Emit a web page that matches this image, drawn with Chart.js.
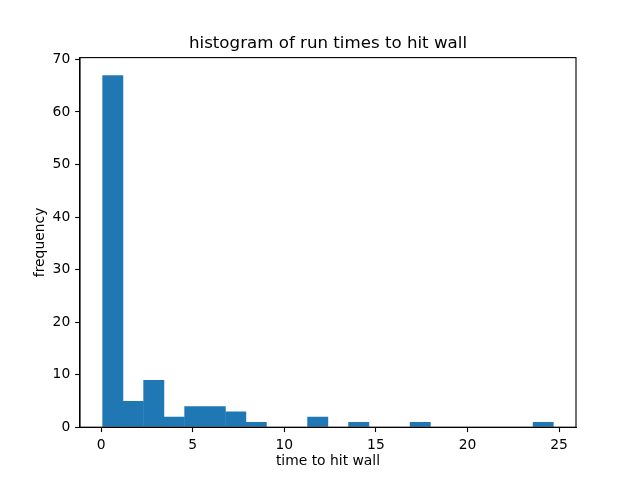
<!DOCTYPE html>
<html>
<head>
<meta charset="utf-8">
<title>histogram of run times to hit wall</title>
<script src="https://cdn.jsdelivr.net/npm/chart.js@4/dist/chart.umd.min.js"></script>
<style>
  html, body { margin: 0; padding: 0; background: #fff; }
  #wrap { width: 640px; height: 480px; }
</style>
</head>
<body>
<div id="wrap"><canvas id="chart-hist" width="640" height="480"></canvas></div>
<script>
// ── DATA ──────────────────────────────────
const binEdges = [0.076, 1.195, 2.314, 3.433, 4.552, 5.671, 6.790, 7.909, 9.028, 10.147,
  11.266, 12.385, 13.504, 14.623, 15.742, 16.861, 17.980, 19.099, 20.218, 21.337,
  22.456, 23.575, 24.694];
const counts = [67, 5, 9, 2, 4, 4, 3, 1, 0, 0, 2, 0, 1, 0, 0, 1, 0, 0, 0, 0, 0, 1];
const xTicks = [0, 5, 10, 15, 20, 25];
const yTicks = [0, 10, 20, 30, 40, 50, 60, 70];

(function Histogram() {
  const PT = 100 / 72;          // matplotlib points -> px at dpi 100
  const FONT = 'DejaVu Sans';
  const BLUE = '#1f77b4';

  // plot box, same as the default matplotlib subplot
  const AX = { left: 80, right: 576, top: 57.6, bottom: 427.2 };
  const xRange = { min: -1.155, max: 25.925 };
  const yRange = { min: 0, max: 70.35 };

  const points = counts.map((c, i) => ({ x: (binEdges[i] + binEdges[i + 1]) / 2, y: c }));

  // top + right spines (Chart.js only draws the axis borders)
  const frame = {
    id: 'frame',
    afterDraw(chart) {
      const { ctx, chartArea: a } = chart;
      ctx.save();
      ctx.strokeStyle = '#000';
      ctx.lineWidth = 0.8 * PT;
      ctx.strokeRect(a.left, a.top, a.right - a.left, a.bottom - a.top);
      ctx.restore();
    }
  };

  const tickFont = { family: FONT, size: 10 * PT };
  const tickGrid = {
    display: true,
    drawOnChartArea: false,
    drawTicks: true,
    tickLength: 3.5 * PT,
    tickColor: '#000',
    tickWidth: 0.8 * PT,
    offset: false
  };

  new Chart(document.getElementById('chart-hist'), {
    type: 'bar',
    data: {
      datasets: [{
        data: points,
        backgroundColor: BLUE,
        borderWidth: 0,
        barPercentage: 1.02,     // tiny overlap hides anti-alias seams
        categoryPercentage: 1.0,
        grouped: false
      }]
    },
    options: {
      responsive: false,
      animation: false,
      devicePixelRatio: 1,
      layout: { padding: { left: 0, right: 640 - AX.right, top: 0, bottom: 0 } },
      plugins: {
        legend: { display: false },
        tooltip: { enabled: false },
        title: {
          display: true,
          text: 'histogram of run times to hit wall',
          fullSize: false,
          color: '#000',
          font: { family: FONT, size: 12 * PT, weight: 'normal', lineHeight: 1.2 },
          padding: { top: 34, bottom: AX.top - 34 - 12 * PT * 1.2 }
        }
      },
      scales: {
        x: {
          type: 'linear',
          offset: false,
          min: xRange.min,
          max: xRange.max,
          grid: tickGrid,
          border: { display: true, color: '#000', width: 0.8 * PT },
          afterBuildTicks: (s) => { s.ticks = xTicks.map(v => ({ value: v })); },
          afterFit: (s) => { s.height = 480 - AX.bottom; },
          ticks: {
            color: '#000', font: tickFont, padding: 3.5 * PT,
            maxRotation: 0, autoSkip: false
          },
          title: {
            display: true,
            text: 'time to hit wall',
            color: '#000',
            font: { family: FONT, size: 10 * PT, lineHeight: 1.2 },
            padding: { top: 0, bottom: 9.9 }
          }
        },
        y: {
          type: 'linear',
          min: yRange.min,
          max: yRange.max,
          grid: tickGrid,
          border: { display: true, color: '#000', width: 0.8 * PT },
          afterBuildTicks: (s) => { s.ticks = yTicks.map(v => ({ value: v })); },
          afterFit: (s) => { s.width = AX.left; },
          ticks: { color: '#000', font: tickFont, padding: 3.5 * PT, autoSkip: false },
          title: {
            display: true,
            text: 'frequency',
            color: '#000',
            font: { family: FONT, size: 10 * PT, lineHeight: 1.2 },
            padding: { top: 40 - 10 * PT * 0.6, bottom: 0 }
          }
        }
      }
    },
    plugins: [frame]
  });
})();
</script>
</body>
</html>
